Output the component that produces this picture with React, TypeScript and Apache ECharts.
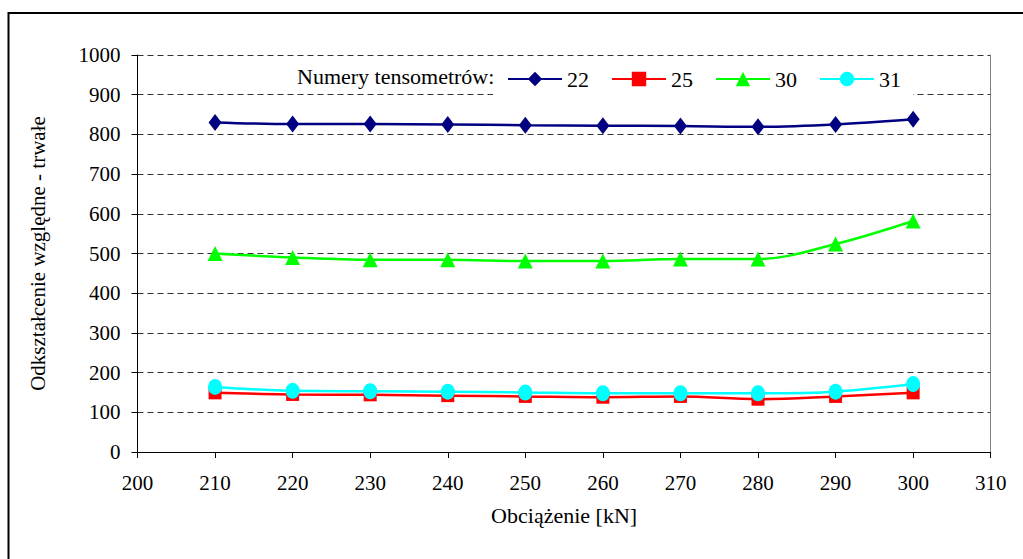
import React, { useEffect, useRef } from "react";
import * as echarts from "echarts";

const loads = [210, 220, 230, 240, 250, 260, 270, 280, 290, 300];
const s22 = [830, 826, 826, 825, 823, 822, 821, 819, 825, 838];
const s25 = [149, 145, 144, 142, 140, 138, 140, 133, 140, 149];
const s30 = [500, 490, 484, 484, 481, 481, 486, 486, 524, 582];
const s31 = [164, 154, 153, 152, 150, 148, 148, 148, 152, 171];

const seriesNames = ["22", "25", "30", "31"];
const seriesData = [s22, s25, s30, s31];
const seriesColors = ["#000080", "#FF0000", "#00FF00", "#00FFFF"];
const seriesSymbols = ["diamond", "rect", "triangle", "circle"];
const seriesSymbolSizes: any[] = [[13, 17], 13, [15, 15], [14, 16]];

const FONT = "Liberation Serif";

export default function App() {
  const ref = useRef<HTMLDivElement>(null);
  useEffect(() => {
    document.body.style.margin = "0";
    const chart = echarts.init(ref.current!, null, { renderer: "svg" });
    const series = seriesNames.map((name, i) => ({
      name,
      type: "line",
      data: loads.map((x, j) => [x, seriesData[i][j]]),
      smooth: 0.35,
      symbol: seriesSymbols[i],
      symbolSize: seriesSymbolSizes[i],
      lineStyle: { color: seriesColors[i], width: 2.5 },
      itemStyle: { color: seriesColors[i] },
      z: 3,
    }));
    const plain = (v: number) => String(v);
    chart.setOption({
      animation: false,
      backgroundColor: "#fff",
      textStyle: { fontFamily: FONT },
      grid: { left: 137.5, top: 55, right: 32.3, bottom: 107, containLabel: false },
      legend: {
        data: seriesNames,
        left: 493,
        top: 58,
        itemWidth: 54,
        itemHeight: 18,
        itemGap: 22,
        padding: [10, 12, 10, 14],
        backgroundColor: "#fff",
        textStyle: { fontFamily: FONT, fontSize: 22, color: "#000" },
        z: 10,
      },
      xAxis: [
        {
          type: "value",
          min: 200,
          max: 310,
          interval: 10,
          name: "Obciążenie [kN]",
          nameLocation: "middle",
          nameGap: 52,
          nameTextStyle: { fontFamily: FONT, fontSize: 22, color: "#000" },
          axisLine: { lineStyle: { color: "#000", width: 1 } },
          axisTick: { show: true, inside: false, length: 6, lineStyle: { color: "#000" } },
          axisLabel: { fontFamily: FONT, fontSize: 21, color: "#000", margin: 20, formatter: plain },
          splitLine: { show: false },
        },
        {
          type: "value",
          position: "top",
          min: 200,
          max: 310,
          axisLine: { show: true, lineStyle: { color: "#000", width: 1 } },
          axisTick: { show: false },
          axisLabel: { show: false },
          splitLine: { show: false },
        },
      ],
      yAxis: [
        {
          type: "value",
          min: 0,
          max: 1000,
          interval: 100,
          name: "Odkształcenie względne - trwałe",
          nameLocation: "middle",
          nameGap: 89,
          nameTextStyle: { fontFamily: FONT, fontSize: 21, color: "#000" },
          axisLine: { show: true, lineStyle: { color: "#000", width: 1 } },
          axisTick: { show: true, inside: false, length: 6, lineStyle: { color: "#000" } },
          axisLabel: { fontFamily: FONT, fontSize: 21, color: "#000", margin: 17, formatter: plain },
          splitLine: { show: true, lineStyle: { color: "#333", type: [6, 4], width: 1 } },
        },
        {
          type: "value",
          position: "right",
          min: 0,
          max: 1000,
          axisLine: { show: true, lineStyle: { color: "#808080", width: 1 } },
          axisTick: { show: false },
          axisLabel: { show: false },
          splitLine: { show: false },
        },
      ],
      graphic: [
        {
          type: "rect",
          shape: { x: 8.5, y: 13, width: 1100, height: 700 },
          style: { fill: "none", stroke: "#000", lineWidth: 2 },
          silent: true,
        },
        {
          type: "text",
          x: 297,
          y: 76,
          z: 20,
          style: {
            text: "Numery tensometrów:",
            fontFamily: FONT,
            fontSize: 22,
            fill: "#000",
            verticalAlign: "middle",
            align: "left",
          },
        },
      ],
      series,
    });
    return () => chart.dispose();
  }, []);
  return <div ref={ref} style={{ width: 1023, height: 559 }} />;
}
